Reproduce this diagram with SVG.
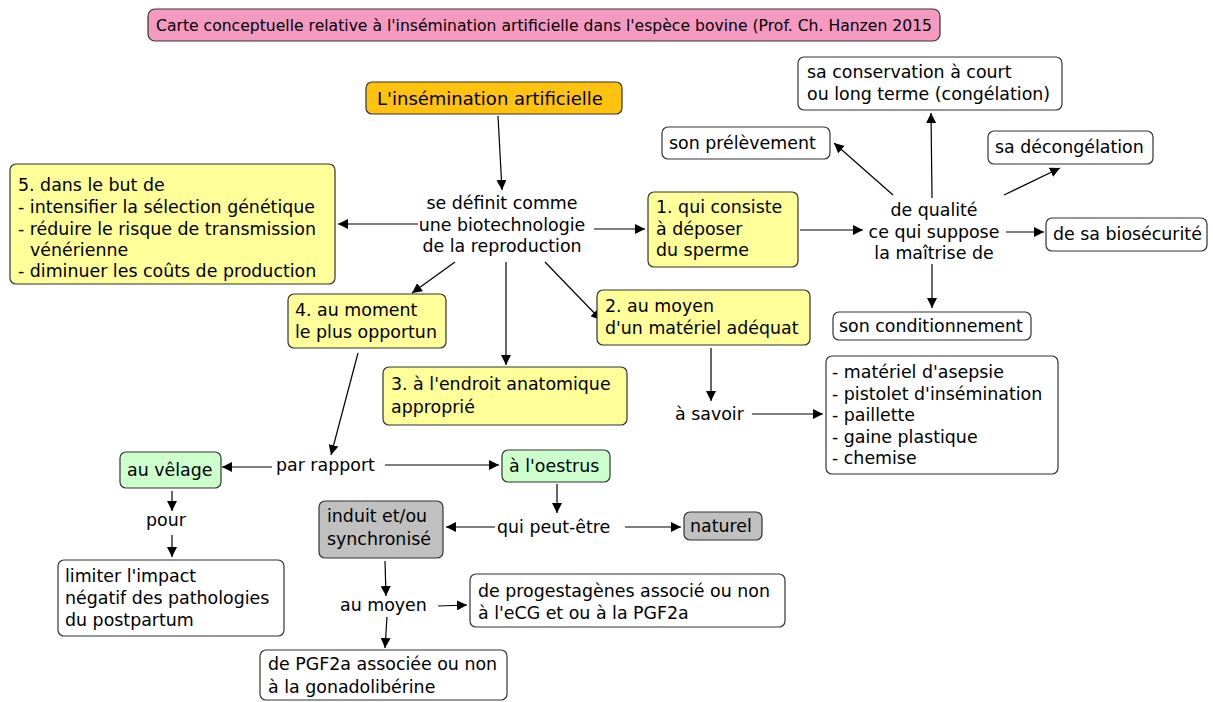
<svg xmlns="http://www.w3.org/2000/svg" width="1213" height="702" viewBox="0 0 1213 702">
<defs>
<marker id="ah" viewBox="0 0 10 10" refX="10" refY="5" markerWidth="10" markerHeight="10" markerUnits="userSpaceOnUse" orient="auto">
<path d="M0,0 L10,5 L0,10 z" fill="#000"/>
</marker>
</defs>
<style>
text{font-family:"DejaVu Sans","Verdana",sans-serif;font-size:17.4px;fill:#000}
.t{font-size:15px}
.big{font-size:18px}
.c{text-anchor:middle}
rect{stroke:#333;stroke-width:1.2}
.y{fill:#ffff99}
.o{fill:#ffc20e}
.g{fill:#ccffcc}
.gr{fill:#c0c0c0}
.w{fill:#fff}
.p{fill:#f49ac1}
#connectors line{stroke:#000;stroke-width:1.2;fill:none;marker-end:url(#ah)}
</style>

<g id="title"><rect class="p" x="148" y="9" width="792" height="32" rx="7"/><text class="t" x="156" y="31" textLength="776" lengthAdjust="spacingAndGlyphs">Carte conceptuelle relative à l'insémination artificielle dans l'espèce bovine (Prof. Ch. Hanzen 2015</text></g>

<g id="connectors">
<line x1="498" y1="116" x2="502" y2="190"/>
<line x1="418" y1="224" x2="338" y2="224"/>
<line x1="594" y1="229" x2="645" y2="229"/>
<line x1="455" y1="262" x2="412" y2="293"/>
<line x1="506" y1="262" x2="506" y2="365"/>
<line x1="545" y1="262" x2="601" y2="320"/>
<line x1="800" y1="230" x2="863" y2="230"/>
<line x1="932" y1="198" x2="931" y2="113"/>
<line x1="893" y1="195" x2="834" y2="143"/>
<line x1="1004" y1="195" x2="1060" y2="168"/>
<line x1="1006" y1="232" x2="1044" y2="232"/>
<line x1="932" y1="264" x2="932" y2="308"/>
<line x1="711" y1="348" x2="711" y2="401"/>
<line x1="752" y1="414" x2="823" y2="414"/>
<line x1="358" y1="353" x2="331" y2="455"/>
<line x1="272" y1="467" x2="222" y2="467"/>
<line x1="385" y1="465" x2="499" y2="465"/>
<line x1="557" y1="484" x2="557" y2="513"/>
<line x1="495" y1="527" x2="446" y2="527"/>
<line x1="625" y1="527" x2="681" y2="527"/>
<line x1="172" y1="491" x2="172" y2="511"/>
<line x1="172" y1="535" x2="172" y2="557"/>
<line x1="385" y1="561" x2="386" y2="596"/>
<line x1="438" y1="606" x2="467" y2="605"/>
<line x1="387" y1="617" x2="385" y2="648"/>
</g>

<g id="n-ia"><rect class="o" x="366" y="82" width="256" height="32" rx="6"/><text class="big" x="377" y="105">L'insémination artificielle</text></g>

<g id="n-def"><text class="c" x="502" y="209">se définit comme</text><text class="c" x="502" y="231">une biotechnologie</text><text class="c" x="502" y="252">de la reproduction</text></g>

<g id="n-but"><rect class="y" x="10" y="164" width="325" height="120" rx="6"/>
<text x="18" y="191">5. dans le but de</text>
<text x="18" y="213">- intensifier la sélection génétique</text>
<text x="18" y="235">- réduire le risque de transmission</text>
<text x="30" y="256">vénérienne</text>
<text x="18" y="277">- diminuer les coûts de production</text></g>

<g id="n-1"><rect class="y" x="648" y="192" width="150" height="75" rx="6"/>
<text x="656" y="213">1. qui consiste</text><text x="656" y="235">à déposer</text><text x="656" y="256">du sperme</text></g>

<g id="n-qual"><text class="c" x="934" y="216">de qualité</text><text class="c" x="934" y="238">ce qui suppose</text><text class="c" x="934" y="259">la maîtrise de</text></g>

<g id="n-cons"><rect class="w" x="798" y="57" width="264" height="53" rx="6"/><text x="807" y="78">sa conservation à court</text><text x="807" y="100">ou long terme (congélation)</text></g>

<g id="n-prel"><rect class="w" x="662" y="127" width="168" height="32" rx="6"/><text x="669" y="149">son prélèvement</text></g>

<g id="n-decong"><rect class="w" x="988" y="131" width="165" height="33" rx="6"/><text x="995" y="153">sa décongélation</text></g>

<g id="n-bios"><rect class="w" x="1046" y="218" width="161" height="33" rx="6"/><text x="1053" y="240">de sa biosécurité</text></g>

<g id="n-cond"><rect class="w" x="833" y="312" width="198" height="28" rx="6"/><text x="839" y="332">son conditionnement</text></g>

<g id="n-4"><rect class="y" x="288" y="294" width="158" height="54" rx="6"/><text x="295" y="316">4. au moment</text><text x="295" y="338">le plus opportun</text></g>

<g id="n-2"><rect class="y" x="597" y="290" width="213" height="55" rx="6"/><text x="605" y="312">2. au moyen</text><text x="605" y="334">d'un matériel adéquat</text></g>

<g id="n-3"><rect class="y" x="383" y="367" width="244" height="58" rx="6"/><text x="391" y="390">3. à l'endroit anatomique</text><text x="391" y="413">approprié</text></g>

<g id="n-savoir"><text x="675" y="420">à savoir</text></g>

<g id="n-list"><rect class="w" x="826" y="356" width="232" height="118" rx="6"/>
<text x="832" y="378">- matériel d'asepsie</text>
<text x="832" y="400">- pistolet d'insémination</text>
<text x="832" y="421">- paillette</text>
<text x="832" y="443">- gaine plastique</text>
<text x="832" y="464">- chemise</text></g>

<g id="n-rapport"><text x="276" y="471">par rapport</text></g>

<g id="n-velage"><rect class="g" x="120" y="452" width="101" height="36" rx="6"/><text x="127" y="476">au vêlage</text></g>

<g id="n-oestrus"><rect class="g" x="502" y="450" width="108" height="32" rx="6"/><text x="509" y="472">à l'oestrus</text></g>

<g id="n-pour"><text class="c" x="166" y="526">pour</text></g>

<g id="n-induit"><rect class="gr" x="319" y="501" width="124" height="57" rx="6"/><text x="327" y="522">induit et/ou</text><text x="327" y="545">synchronisé</text></g>

<g id="n-peut"><text x="497" y="533">qui peut-être</text></g>

<g id="n-naturel"><rect class="gr" x="684" y="512" width="78" height="28" rx="6"/><text x="690" y="532">naturel</text></g>

<g id="n-limiter"><rect class="w" x="58" y="560" width="226" height="76" rx="6"/><text x="65" y="582">limiter l'impact</text><text x="65" y="604">négatif des pathologies</text><text x="65" y="626">du postpartum</text></g>

<g id="n-aumoyen"><text x="340" y="611">au moyen</text></g>

<g id="n-prog"><rect class="w" x="470" y="574" width="315" height="53" rx="6"/><text x="478" y="597">de progestagènes associé ou non</text><text x="478" y="619">à l'eCG et ou à la PGF2a</text></g>

<g id="n-pgf"><rect class="w" x="260" y="650" width="247" height="50" rx="6"/><text x="268" y="670">de PGF2a associée ou non</text><text x="268" y="693">à la gonadolibérine</text></g>
</svg>
